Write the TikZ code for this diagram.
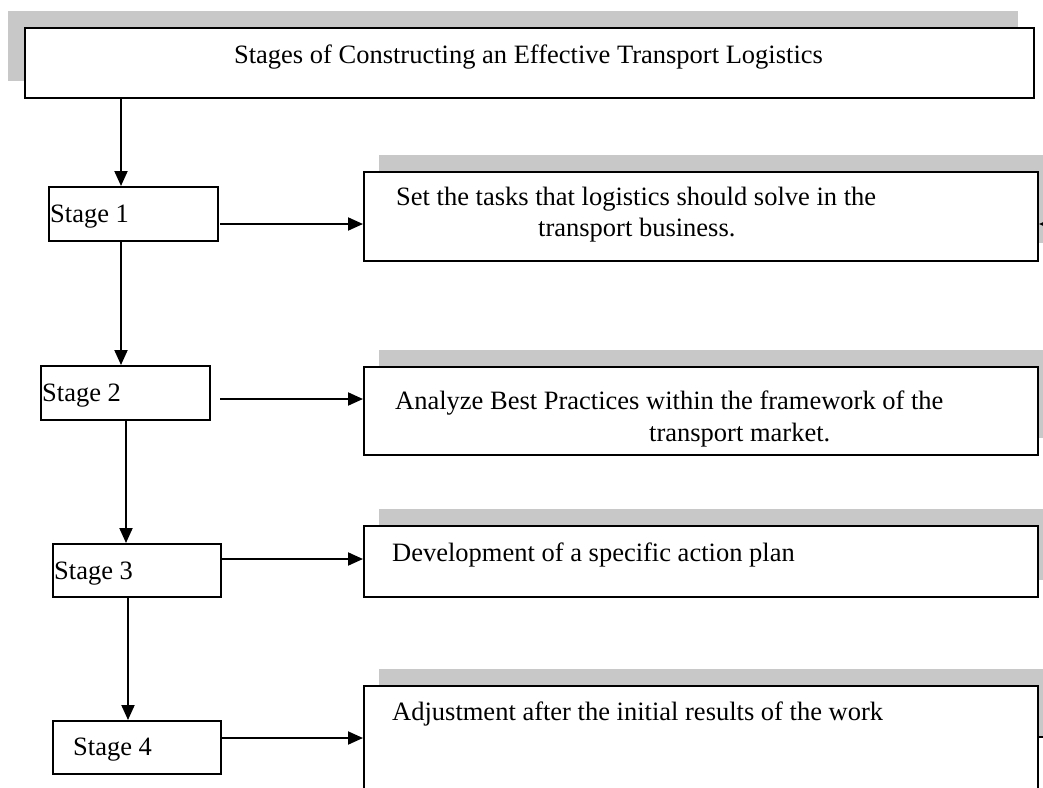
\documentclass[tikz,border=0pt]{standalone}
\usepackage{fontspec}
\setmainfont{Liberation Serif}
\usetikzlibrary{arrows.meta}
\definecolor{shadowgray}{RGB}{200,200,200}
\tikzset{
  frame/.style={draw=black, line width=2pt, fill=white, inner sep=0pt, anchor=north west},
  shade box/.style={fill=shadowgray, draw=none},
  arr/.style={line width=2pt, -{Triangle[length=15pt,width=13pt]}},
  lbl/.style={inner sep=0pt, anchor=base west, font=\fontsize{26.5}{30}\selectfont},
}
\begin{document}
\begin{tikzpicture}[x=1pt,y=-1pt]
\useasboundingbox (0,0) rectangle (1043,787);
\clip (0,0) rectangle (1043,787);
\fill[white] (0,0) rectangle (1043,787);

% grey shadow bands behind the frames
\fill[shade box] (8,11) rectangle (1018,81);
\fill[shade box] (379,155) rectangle (1053,243);
\fill[shade box] (379,350) rectangle (1053,438);
\fill[shade box] (379,509) rectangle (1053,580);
\fill[shade box] (379,669) rectangle (1053,737);

% title frame
\node[frame, minimum width=1009pt, minimum height=70pt] (title) at (24,27) {};
\node[lbl, anchor=base] (titletxt) at (528.5,63) {Stages of Constructing an Effective Transport Logistics};

% stage frames
\node[frame, minimum width=169pt, minimum height=54pt] (s1) at (48,186) {};
\node[frame, minimum width=169pt, minimum height=54pt] (s2) at (40,365) {};
\node[frame, minimum width=168pt, minimum height=53pt] (s3) at (52,543) {};
\node[frame, minimum width=168pt, minimum height=53pt] (s4) at (52,720) {};
\node[lbl] (s1txt) at (50,222) {Stage 1};
\node[lbl] (s2txt) at (42,401) {Stage 2};
\node[lbl] (s3txt) at (54,579) {Stage 3};
\node[lbl] (s4txt) at (73,755) {Stage 4};

% task frames
\node[frame, minimum width=674pt, minimum height=89pt] (t1) at (363,171) {};
\node[frame, minimum width=674pt, minimum height=88pt] (t2) at (363,366) {};
\node[frame, minimum width=674pt, minimum height=71pt] (t3) at (363,525) {};
\node[frame, minimum width=674pt, minimum height=130pt] (t4) at (363,685) {};
\node[lbl] (t1a) at (396,205) {Set the tasks that logistics should solve in the};
\node[lbl] (t1b) at (538,236) {transport business.};
\node[lbl] (t2a) at (395,409) {Analyze Best Practices within the framework of the};
\node[lbl] (t2b) at (649,441) {transport market.};
\node[lbl] (t3a) at (392,561) {Development of a specific action plan};
\node[lbl] (t4a) at (392,720) {Adjustment after the initial results of the work};

% vertical connectors along the stage column
\coordinate (c0) at (121,0);
\coordinate (c1) at (121,0);
\coordinate (c2) at (126,0);
\coordinate (c3) at (128,0);
\draw[arr] (title.south -| c0) -- (s1.north -| c0);
\draw[arr] (s1.south -| c1) -- (s2.north -| c1);
\draw[arr] (s2.south -| c2) -- (s3.north -| c2);
\draw[arr] (s3.south -| c3) -- (s4.north -| c3);

% horizontal connectors from stages to tasks
\coordinate (h1) at (220,224);
\coordinate (h2) at (220,399);
\coordinate (h3) at (220,559);
\coordinate (h4) at (220,738);
\draw[arr] (h1) -- (h1 -| t1.west);
\draw[arr] (h2) -- (h2 -| t2.west);
\draw[arr] (h3) -- (h3 -| t3.west);
\draw[arr] (h4) -- (h4 -| t4.west);

% connectors entering from the right margin
\coordinate (r1) at (1070,224);
\coordinate (r4) at (1070,737);
\draw[arr] (r1) -- (r1 -| t1.east);
\draw[line width=2pt] (r4 -| t4.east) -- (r4);
\end{tikzpicture}
\end{document}
